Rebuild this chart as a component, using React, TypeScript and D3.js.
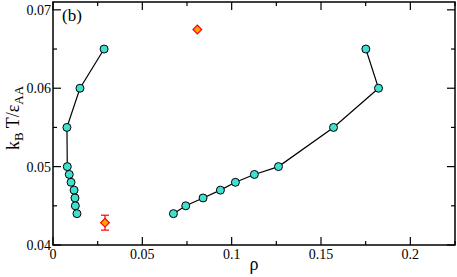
import React, { useEffect, useRef } from "react";
import * as d3 from "d3";

// left (gas-side) branch
const leftRho = [0.0286, 0.0151, 0.0078, 0.008, 0.0091, 0.0101, 0.0118, 0.0123, 0.0125, 0.0134];
const leftT = [0.065, 0.06, 0.055, 0.05, 0.049, 0.048, 0.047, 0.046, 0.045, 0.044];
// right (liquid-side) branch
const rightRho = [0.0674, 0.0743, 0.084, 0.0937, 0.1021, 0.1127, 0.1262, 0.157, 0.1822, 0.1751];
const rightT = [0.044, 0.045, 0.046, 0.047, 0.048, 0.049, 0.05, 0.055, 0.06, 0.065];
// critical point estimates
const critRho = [0.0808, 0.0291];
const critT = [0.0675, 0.04285];
const critErr = [0, 0.00095];

const xTicks = [0, 0.05, 0.1, 0.15, 0.2];
const xTickLabels = ["0", "0.05", "0.1", "0.15", "0.2"];
const yTicks = [0.04, 0.05, 0.06, 0.07];
const yTickLabels = ["0.04", "0.05", "0.06", "0.07"];

const W = 457;
const H = 277;
const m = { left: 53, right: 2, top: 2, bottom: 32 };

const App = () => {
  const ref = useRef<SVGSVGElement>(null);

  useEffect(() => {
    const svg = d3.select(ref.current);
    svg.selectAll("*").remove();

    const x = d3.scaleLinear().domain([0, 0.225]).range([m.left, W - m.right]);
    const y = d3.scaleLinear().domain([0.04, 0.071]).range([H - m.bottom, m.top]);

    const minorX = d3.range(0, 0.2251, 0.025);
    const minorY = d3.range(0.04, 0.0711, 0.005);

    const g = svg.append("g");
    // ticks, pointing inwards on all four sides
    minorX.forEach((v) => {
      const major = xTicks.some((t) => Math.abs(t - v) < 1e-9);
      const len = major ? 8 : 4;
      g.append("line").attr("x1", x(v)).attr("x2", x(v))
        .attr("y1", y(0.04)).attr("y2", y(0.04) - len)
        .attr("stroke", "black").attr("stroke-width", 1.2);
      g.append("line").attr("x1", x(v)).attr("x2", x(v))
        .attr("y1", y(0.071)).attr("y2", y(0.071) + len)
        .attr("stroke", "black").attr("stroke-width", 1.2);
    });
    minorY.forEach((v) => {
      const major = yTicks.some((t) => Math.abs(t - v) < 1e-9);
      const len = major ? 8 : 4;
      g.append("line").attr("x1", x(0)).attr("x2", x(0) + len)
        .attr("y1", y(v)).attr("y2", y(v))
        .attr("stroke", "black").attr("stroke-width", 1.2);
      g.append("line").attr("x1", x(0.225)).attr("x2", x(0.225) - len)
        .attr("y1", y(v)).attr("y2", y(v))
        .attr("stroke", "black").attr("stroke-width", 1.2);
    });

    g.append("rect")
      .attr("x", x(0)).attr("y", y(0.071))
      .attr("width", x(0.225) - x(0)).attr("height", y(0.04) - y(0.071))
      .attr("fill", "none").attr("stroke", "black").attr("stroke-width", 1.5);

    xTicks.forEach((t, i) => {
      g.append("text").attr("x", x(t)).attr("y", y(0.04) + 14)
        .attr("text-anchor", "middle").attr("font-size", 14)
        .text(xTickLabels[i]);
    });
    yTicks.forEach((t, i) => {
      g.append("text").attr("x", x(0) - 2).attr("y", y(t) + 5)
        .attr("text-anchor", "end").attr("font-size", 14)
        .text(yTickLabels[i]);
    });

    // axis titles
    g.append("text").attr("x", (x(0) + x(0.225)) / 2).attr("y", 270)
      .attr("text-anchor", "middle").attr("font-size", 18)
      .text("ρ");

    const yl = g.append("text")
      .attr("transform", `translate(19,118) rotate(-90)`)
      .attr("text-anchor", "middle").attr("font-size", 18);
    yl.append("tspan").text("k");
    yl.append("tspan").attr("font-size", 13).attr("dy", 4).text("B");
    yl.append("tspan").attr("dy", -4).text(" T/ε");
    yl.append("tspan").attr("font-size", 13).attr("dy", 4).text("AA");

    g.append("text").attr("x", 62).attr("y", 21)
      .attr("font-size", 17).text("(b)");

    const line = d3.line<[number, number]>().x((d) => x(d[0])).y((d) => y(d[1]));
    [[leftRho, leftT], [rightRho, rightT]].forEach(([rs, ts]) => {
      const pts = rs.map((r, i) => [r, ts[i]] as [number, number]);
      g.append("path").attr("d", line(pts)).attr("fill", "none")
        .attr("stroke", "black").attr("stroke-width", 1.2);
      g.selectAll(null).data(pts).enter().append("circle")
        .attr("cx", (d) => x(d[0])).attr("cy", (d) => y(d[1])).attr("r", 4)
        .attr("fill", "#40e0d0").attr("stroke", "black").attr("stroke-width", 1);
    });

    critRho.forEach((r, i) => {
      const cx = x(r);
      const cy = y(critT[i]);
      if (critErr[i] > 0) {
        const y1 = y(critT[i] + critErr[i]);
        const y2 = y(critT[i] - critErr[i]);
        g.append("line").attr("x1", cx).attr("x2", cx).attr("y1", y1).attr("y2", y2)
          .attr("stroke", "red").attr("stroke-width", 1.2);
        [y1, y2].forEach((yy) =>
          g.append("line").attr("x1", cx - 4).attr("x2", cx + 4).attr("y1", yy).attr("y2", yy)
            .attr("stroke", "red").attr("stroke-width", 1.2));
      }
      g.append("path")
        .attr("d", d3.symbol(d3.symbolSquare, 38)() as string)
        .attr("transform", `translate(${cx},${cy}) rotate(45)`)
        .attr("fill", "orange").attr("stroke", "red").attr("stroke-width", 1.2);
    });
  }, []);

  return (
    <svg ref={ref} width={W} height={H}
      style={{ position: "absolute", left: 0, top: 0, background: "white",
        fontFamily: "'Liberation Serif', serif" }} />
  );
};

export default App;
